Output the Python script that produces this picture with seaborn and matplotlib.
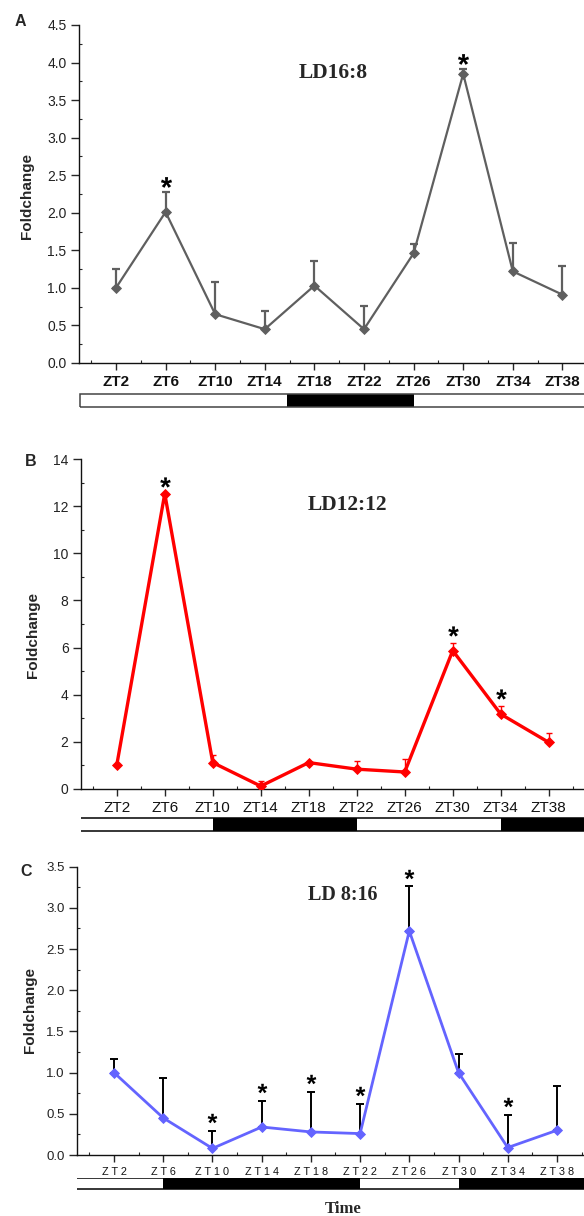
import numpy as np
import pandas as pd
import matplotlib
matplotlib.use("Agg")
import matplotlib.pyplot as plt
import seaborn as sns
from matplotlib.ticker import MultipleLocator, FixedLocator
from matplotlib.textpath import TextPath
from matplotlib.path import Path
from matplotlib.font_manager import FontProperties
from matplotlib.transforms import ScaledTranslation
from matplotlib.patches import Rectangle

# ---------------- data ----------------
zt_hours = [2, 6, 10, 14, 18, 22, 26, 30, 34, 38]
zt_labels = ["ZT2", "ZT6", "ZT10", "ZT14", "ZT18", "ZT22", "ZT26", "ZT30", "ZT34", "ZT38"]

a_title = "LD16:8"
a_values = [1.00, 2.01, 0.65, 0.45, 1.03, 0.45, 1.46, 3.85, 1.22, 0.91]
a_errors = [0.25, 0.26, 0.43, 0.24, 0.33, 0.31, 0.12, 0.06, 0.38, 0.38]
a_stars = ["ZT6", "ZT30"]
a_bar_start = -0.9
a_dark = [(15.8, 26.0)]

b_title = "LD12:12"
b_values = [1.00, 12.54, 1.11, 0.11, 1.11, 0.83, 0.71, 5.87, 3.17, 1.97]
b_errors = [0.00, 0.00, 0.34, 0.23, 0.00, 0.35, 0.54, 0.34, 0.35, 0.41]
b_stars = ["ZT6", "ZT30", "ZT34"]
b_bar_start = -1.3
b_dark = [(10.0, 22.0), (34.0, 44.0)]

c_title = "LD 8:16"
c_values = [1.00, 0.45, 0.08, 0.34, 0.28, 0.26, 2.72, 1.00, 0.09, 0.30]
c_errors = [0.17, 0.48, 0.21, 0.32, 0.49, 0.36, 0.54, 0.23, 0.40, 0.54]
c_stars = ["ZT10", "ZT14", "ZT18", "ZT22", "ZT26", "ZT34"]
c_bar_start = -1.1
c_dark = [(6.0, 22.0), (30.0, 44.0)]

bar_end = 44.0

# ---------------- style ----------------
sns.set_theme(style="ticks")
plt.rcParams["font.family"] = ["Liberation Sans", "DejaVu Sans"]
plt.rcParams["axes.linewidth"] = 1.0

W, H = 584, 1216
fig = plt.figure(figsize=(W / 100, H / 100), dpi=100)

# centred bold asterisk marker
_tp = TextPath((0, 0), "*", prop=FontProperties(family="Liberation Sans", weight="bold"))
_v = _tp.vertices.copy()
_codes = _tp.codes
_real = _codes != Path.CLOSEPOLY
_xmin, _ymin = _v[_real].min(axis=0)
_xmax, _ymax = _v[_real].max(axis=0)
_v[:, 0] -= (_xmin + _xmax) / 2
_v[:, 1] -= (_ymin + _ymax) / 2
_v[~_real] = 0.0
star_path = Path(_v, _codes)


def px_axes(left, top, right, bottom):
    return fig.add_axes([left / W, 1 - bottom / H, (right - left) / W, (bottom - top) / H])


panels = [
    dict(title=a_title, values=a_values, errors=a_errors, stars=a_stars, dark=a_dark,
         bar_start=a_bar_start, box=(79, 25, 584, 363), bar=(393.3, 407.7),
         xlim=(-0.98, 39.74), ylim=(0, 4.5), ymaj=0.5, ymin=0.25, fmt="{:.1f}",
         color="#5f5f5f", lw=1.6, ms=5.0, ecolor="#5f5f5f", elw=1.6, cap=3.0,
         xt_size=11, xt_weight="bold", xt_spaced=False, yt_size=10,
         title_pos=(0.503, 0.858), title_size=15.5, label_pos=(-0.102, 0.494),
         star_ms=8.0, star_off=7.6, bar_edge="#444444", letter="A", letter_pos=(20, 21)),
    dict(title=b_title, values=b_values, errors=b_errors, stars=b_stars, dark=b_dark,
         bar_start=b_bar_start, box=(81, 459.3, 584, 788.7), bar=(817.3, 831.7),
         xlim=(-0.98, 40.94), ylim=(0, 14), ymaj=2, ymin=1, fmt="{:.0f}",
         color="#ff0000", lw=2.4, ms=5.6, ecolor="#ff0000", elw=1.0, cap=2.5,
         xt_size=11, xt_weight="normal", xt_spaced=False, yt_size=10,
         title_pos=(0.529, 0.861), title_size=15.5, label_pos=(-0.0954, 0.4675),
         star_ms=7.6, star_off=8.4, bar_edge="#000000", letter="B", letter_pos=(31, 462)),
    dict(title=c_title, values=c_values, errors=c_errors, stars=c_stars, dark=c_dark,
         bar_start=c_bar_start, box=(77, 866.7, 584, 1155), bar=(1177.7, 1190),
         xlim=(-1.01, 40.2), ylim=(0, 3.5), ymaj=0.5, ymin=0.25, fmt="{:.1f}",
         color="#6464ff", lw=2.0, ms=5.0, ecolor="#000000", elw=1.4, cap=2.8,
         xt_size=7.8, xt_weight="normal", xt_spaced=True, yt_size=9.5,
         title_pos=(0.525, 0.902), title_size=14.5, label_pos=(-0.0927, 0.503),
         star_ms=7.0, star_off=9.3, bar_edge="#000000", letter="C", letter_pos=(26, 871)),
]

for p in panels:
    ax = px_axes(*p["box"])
    df = pd.DataFrame({"zt": zt_hours, "fc": p["values"], "err": p["errors"]})

    ax.errorbar(df["zt"], df["fc"], yerr=[np.zeros(len(df)), df["err"]], fmt="none",
                ecolor=p["ecolor"], elinewidth=p["elw"], capsize=p["cap"],
                capthick=p["elw"], zorder=1.5)
    sns.lineplot(data=df, x="zt", y="fc", ax=ax, color=p["color"], linewidth=p["lw"],
                 marker="D", markersize=p["ms"], markeredgecolor=p["color"],
                 markeredgewidth=0.6, zorder=3)

    # significance stars
    star_df = df[[lab in p["stars"] for lab in zt_labels]]
    off = ScaledTranslation(0, p["star_off"] / 72, fig.dpi_scale_trans)
    ax.plot(star_df["zt"], star_df["fc"] + star_df["err"], linestyle="none",
            marker=star_path, markersize=p["star_ms"], color="black",
            markeredgewidth=0, transform=ax.transData + off, clip_on=False, zorder=4)

    ax.set_xlim(*p["xlim"])
    ax.set_ylim(*p["ylim"])
    sns.despine(ax=ax)
    for s in ("left", "bottom"):
        ax.spines[s].set_color("#111111")
        ax.spines[s].set_linewidth(1.0)

    ax.xaxis.set_major_locator(FixedLocator(zt_hours))
    labs = [" ".join(l) if p["xt_spaced"] else l for l in zt_labels]
    ax.set_xticklabels(labs, fontsize=p["xt_size"], fontweight=p["xt_weight"], color="#111111")
    ax.xaxis.set_minor_locator(FixedLocator([h - 2 for h in zt_hours] + [40]))
    ax.yaxis.set_major_locator(MultipleLocator(p["ymaj"]))
    ax.yaxis.set_minor_locator(MultipleLocator(p["ymin"]))
    yt = np.arange(p["ylim"][0], p["ylim"][1] + 1e-9, p["ymaj"])
    ax.set_yticks(yt)
    ax.set_yticklabels([p["fmt"].format(v) for v in yt], fontsize=p["yt_size"], color="#222222")
    ax.tick_params(axis="x", which="major", direction="out", length=5, width=1.0, pad=3.5)
    ax.tick_params(axis="y", which="major", direction="out", length=5.5, width=1.0, pad=3.5)
    ax.tick_params(axis="both", which="minor", direction="in", length=2.2, width=0.8)

    ax.set_xlabel("")
    ax.set_ylabel("Foldchange", fontsize=11, fontweight="bold", va="center")
    ax.yaxis.set_label_coords(*p["label_pos"])

    ax.text(*p["title_pos"], p["title"], transform=ax.transAxes, ha="center", va="center",
            fontsize=p["title_size"], fontweight="bold", family="Liberation Serif")

    # light / dark bar
    bax = px_axes(p["box"][0], p["bar"][0], 584, p["bar"][1])
    bax.set_xlim(*p["xlim"])
    bax.set_ylim(-0.07, 1.07)
    bax.axis("off")
    bax.broken_barh([(p["bar_start"], bar_end - p["bar_start"])], (0, 1),
                    facecolors="white", edgecolor="none")
    bax.broken_barh([(s, e - s) for s, e in p["dark"]], (0, 1),
                    facecolors="black", edgecolor="none")
    bax.add_patch(Rectangle((p["bar_start"], 0), bar_end - p["bar_start"], 1, fill=False,
                            edgecolor=p["bar_edge"], linewidth=1.1))

    fig.text(p["letter_pos"][0] / W, 1 - p["letter_pos"][1] / H, p["letter"],
             ha="center", va="center", fontsize=11.5, fontweight="bold")

fig.text(343 / W, 1 - 1209 / H, "Time", ha="center", va="center", fontsize=12,
         fontweight="bold", family="Liberation Serif")

fig.savefig("out.png", dpi=100)
